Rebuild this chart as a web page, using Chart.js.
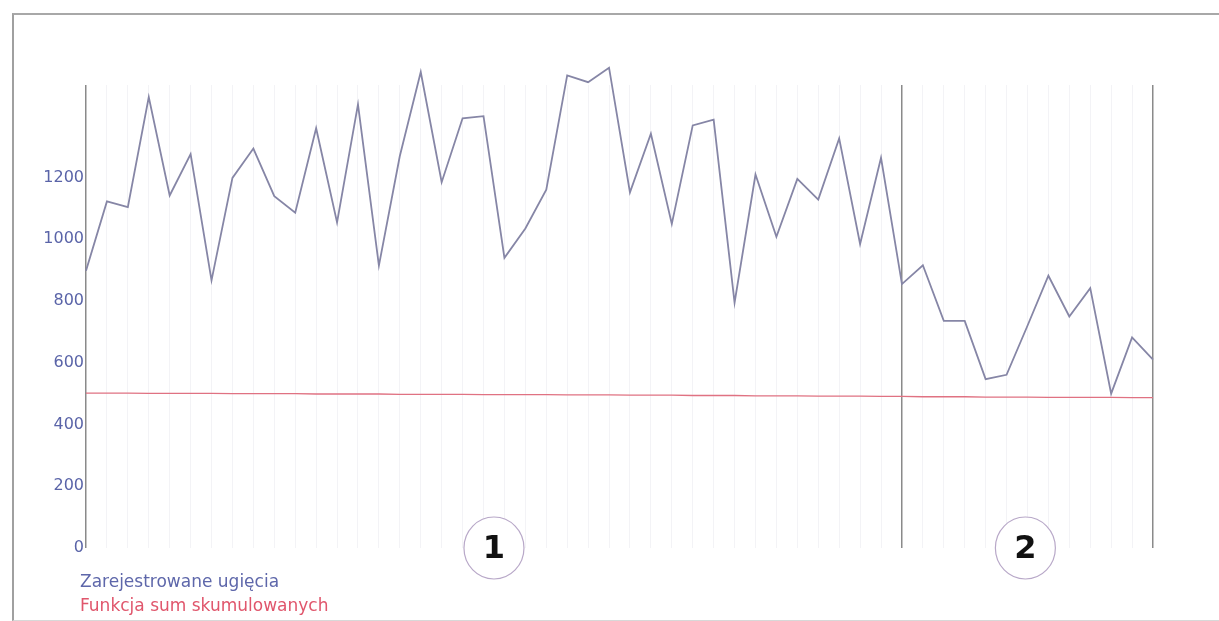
<!DOCTYPE html>
<html>
<head>
<meta charset="utf-8">
<script src="https://cdn.jsdelivr.net/npm/chart.js@4"></script>
<style>
  html, body { margin: 0; padding: 0; background: #fff; }
  #wrap { position: relative; width: 1219px; height: 621px; overflow: hidden; }
  #frame {
    position: absolute; left: 12px; top: 13px; width: 1215px; height: 605px;
    border-left: 2px solid #a0a0a0; border-top: 2px solid #a8a8a8; border-bottom: 1px solid #d8d8d8;
  }
  #chart { position: absolute; left: 0; top: 0; }
  .legend { position: absolute; left: 80px; font: 17px "DejaVu Sans", sans-serif; }
</style>
</head>
<body>
<div id="wrap">
  <div id="frame"></div>
  <canvas id="chart" width="1219" height="621"></canvas>
  <div class="legend" style="top:571px;color:#5e67aa">Zarejestrowane ugięcia</div>
  <div class="legend" style="top:595px;color:#e0566c">Funkcja sum skumulowanych</div>
</div>
<script>
const labels = Array.from({ length: 52 }, (_, i) => String(i + 1));

const deflections = [
  898, 1123, 1104, 1461, 1142, 1276, 867, 1199, 1294, 1140,
  1086, 1360, 1055, 1437, 915, 1270, 1542, 1185, 1392, 1399,
  940, 1035, 1161, 1531, 1509, 1556, 1152, 1342, 1050, 1369,
  1388, 795, 1210, 1008, 1196, 1129, 1327, 985, 1264, 855,
  916, 736, 736, 547, 561, 720, 882, 750, 842, 500,
  682, 610
];

const cusum = [
  502, 502, 502, 501, 501, 501, 501, 500, 500, 500,
  500, 499, 499, 499, 499, 498, 498, 498, 498, 497,
  497, 497, 497, 496, 496, 496, 495, 495, 495, 494,
  494, 494, 493, 493, 493, 492, 492, 492, 491, 491,
  490, 490, 490, 489, 489, 489, 488, 488, 488, 488,
  487, 487
];

const yTicks = [0, 200, 400, 600, 800, 1000, 1200];

// section boundaries (category index) and circled section markers
const sectionBreaks = [0, 39, 51];
const sectionNames = ['1', '2'];
const sectionCenters = [19.5, 44.9];

const sectionMarkers = {
  id: 'sectionMarkers',
  afterDraw(chart) {
    const { ctx, scales } = chart;
    const y = scales.y.getPixelForValue(0);
    ctx.save();
    sectionNames.forEach((name, i) => {
      const x = scales.x.getPixelForValue(sectionCenters[i]);
      ctx.beginPath();
      ctx.ellipse(x, y, 30, 31, 0, 0, Math.PI * 2);
      ctx.fillStyle = '#ffffff';
      ctx.fill();
      ctx.strokeStyle = '#b8a8c8';
      ctx.lineWidth = 1.2;
      ctx.stroke();
      ctx.fillStyle = '#111111';
      ctx.font = 'bold 32px "DejaVu Sans", sans-serif';
      ctx.textAlign = 'center';
      ctx.textBaseline = 'middle';
      ctx.fillText(name, x, y + 2);
    });
    ctx.restore();
  }
};

new Chart(document.getElementById('chart'), {
  type: 'line',
  data: {
    labels,
    datasets: [
      {
        label: 'Zarejestrowane ugięcia',
        data: deflections,
        borderColor: '#8686a6',
        borderWidth: 1.8,
        pointRadius: 0,
        tension: 0,
        clip: false
      },
      {
        label: 'Funkcja sum skumulowanych',
        data: cusum,
        borderColor: '#e07282',
        borderWidth: 1.3,
        pointRadius: 0,
        tension: 0
      }
    ]
  },
  options: {
    responsive: false,
    animation: false,
    layout: { padding: { left: 0, right: 66, top: 85, bottom: 73 } },
    plugins: { legend: { display: false }, tooltip: { enabled: false } },
    scales: {
      x: {
        offset: false,
        ticks: { display: false },
        border: { display: false },
        grid: {
          drawTicks: false,
          lineWidth: (c) => (sectionBreaks.includes(c.index) ? 1.5 : 1),
          color: (c) => (sectionBreaks.includes(c.index) ? '#8a8a8a' : '#f3f3f6')
        },
        afterFit: (scale) => { scale.height = 0; }
      },
      y: {
        min: 0,
        max: 1500,
        border: { display: false },
        grid: { display: false, drawTicks: false },
        afterBuildTicks: (scale) => { scale.ticks = yTicks.map((v) => ({ value: v })); },
        ticks: {
          color: '#5a64a8',
          padding: 2,
          font: { family: 'DejaVu Sans', size: 16 },
          callback: (value) => String(value)
        },
        afterFit: (scale) => { scale.width = 86; }
      }
    }
  },
  plugins: [sectionMarkers]
});
</script>
</body>
</html>
